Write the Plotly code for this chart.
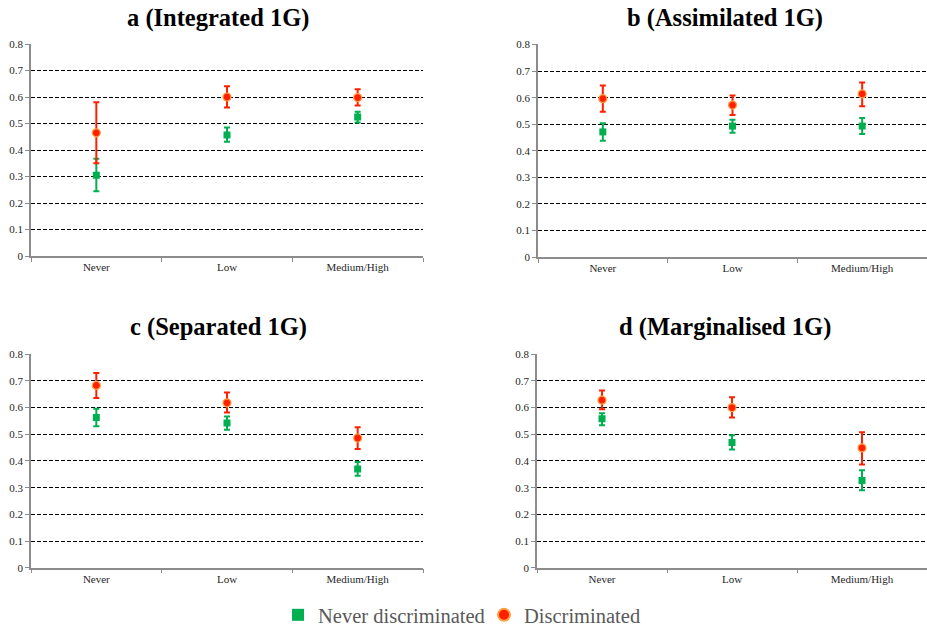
import plotly.graph_objects as go

categories = ["Never", "Low", "Medium/High"]
panel_titles = ["a (Integrated 1G)", "b (Assimilated 1G)", "c (Separated 1G)", "d (Marginalised 1G)"]
series_names = ["Never discriminated", "Discriminated"]

# Never discriminated (green): mean, upper, lower
a_never = [0.305, 0.457, 0.525]
a_never_hi = [0.367, 0.485, 0.544]
a_never_lo = [0.244, 0.431, 0.504]
a_disc = [0.465, 0.600, 0.598]
a_disc_hi = [0.580, 0.641, 0.629]
a_disc_lo = [0.350, 0.560, 0.568]

b_never = [0.471, 0.493, 0.493]
b_never_hi = [0.504, 0.517, 0.523]
b_never_lo = [0.438, 0.468, 0.463]
b_disc = [0.596, 0.572, 0.614]
b_disc_hi = [0.646, 0.608, 0.657]
b_disc_lo = [0.547, 0.535, 0.568]

c_never = [0.563, 0.542, 0.370]
c_never_hi = [0.596, 0.567, 0.396]
c_never_lo = [0.530, 0.517, 0.345]
c_disc = [0.683, 0.618, 0.486]
c_disc_hi = [0.730, 0.657, 0.526]
c_disc_lo = [0.636, 0.582, 0.445]

d_never = [0.558, 0.469, 0.327]
d_never_hi = [0.579, 0.496, 0.365]
d_never_lo = [0.534, 0.443, 0.290]
d_disc = [0.628, 0.600, 0.449]
d_disc_hi = [0.664, 0.639, 0.508]
d_disc_lo = [0.594, 0.563, 0.387]

y_ticks = [0, 0.1, 0.2, 0.3, 0.4, 0.5, 0.6, 0.7, 0.8]

panels = [
    (a_never, a_never_hi, a_never_lo, a_disc, a_disc_hi, a_disc_lo),
    (b_never, b_never_hi, b_never_lo, b_disc, b_disc_hi, b_disc_lo),
    (c_never, c_never_hi, c_never_lo, c_disc, c_disc_hi, c_disc_lo),
    (d_never, d_never_hi, d_never_lo, d_disc, d_disc_hi, d_disc_lo),
]

# body margin is removed by the post script, so the figure fills the window
W, H = 927, 627


def px(x):
    return x / W


def py(y):
    return 1 - y / H


xdoms = [[px(31), px(423)], [px(538), 1.0], [px(31), px(423)], [px(537), 1.0]]
ydoms = [[py(256), py(43.5)], [py(257), py(44)],
         [py(567.7), py(353.7)], [py(567.7), py(353.7)]]
title_pos = [(218, 18), (725, 18), (218, 327), (725, 327)]

GREEN = "#00B050"
RED = "#FF2000"
serif = "Liberation Serif, Times New Roman, serif"

fig = go.Figure()
layout = dict(
    template="none",
    width=W, height=H, margin=dict(l=0, r=0, t=0, b=0, pad=0, autoexpand=False),
    paper_bgcolor="white", plot_bgcolor="white",
    showlegend=True,
    legend=dict(orientation="h", x=px(278), xanchor="left", y=py(615), yanchor="middle",
                font=dict(family=serif, size=20.5, color="#595959"),
                bgcolor="rgba(0,0,0,0)", entrywidth=161, entrywidthmode="pixels",
                itemsizing="constant", traceorder="normal", itemwidth=30),
    annotations=[],
)

for i, (gn, gh, gl, rn, rh, rl) in enumerate(panels):
    k = "" if i == 0 else str(i + 1)
    xa, ya = "x" + k, "y" + k
    fig.add_trace(go.Scatter(
        x=categories, y=gn, xaxis=xa, yaxis=ya, mode="markers",
        name=series_names[0], showlegend=(i == 0), legendgroup="g",
        marker=dict(symbol="square", size=7, color=GREEN),
        error_y=dict(type="data", symmetric=False,
                     array=[h - m for h, m in zip(gh, gn)],
                     arrayminus=[m - l for m, l in zip(gn, gl)],
                     color=GREEN, thickness=2, width=3),
    ))
    fig.add_trace(go.Scatter(
        x=categories, y=rn, xaxis=xa, yaxis=ya, mode="markers",
        name=series_names[1], showlegend=(i == 0), legendgroup="r",
        marker=dict(symbol="circle", size=8, color=RED, line=dict(color="#FFA040", width=1.2)),
        error_y=dict(type="data", symmetric=False,
                     array=[h - m for h, m in zip(rh, rn)],
                     arrayminus=[m - l for m, l in zip(rn, rl)],
                     color=RED, thickness=2, width=3),
    ))
    layout["xaxis" + k] = dict(
        domain=xdoms[i], anchor=ya, type="category", categoryorder="array",
        categoryarray=categories, range=[-0.5, 2.5], automargin=False,
        showline=True, linecolor="#8c8c8c", linewidth=1.5,
        ticks="outside", tickson="boundaries", ticklen=4, tickcolor="#8c8c8c",
        showgrid=False, zeroline=False,
        tickfont=dict(family=serif, size=11, color="#262626"),
    )
    layout["yaxis" + k] = dict(
        domain=ydoms[i], anchor=xa, range=[0, 0.802], automargin=False,
        tickvals=y_ticks, ticktext=[f"{v:g}" for v in y_ticks],
        showline=True, linecolor="#8c8c8c", linewidth=1.5,
        ticks="outside", ticklen=4, tickcolor="#8c8c8c",
        showgrid=True, gridcolor="#000000", griddash="4px,2px", gridwidth=1.2,
        zeroline=False,
        tickfont=dict(family=serif, size=11, color="#262626"),
    )
    tx, ty = title_pos[i]
    layout["annotations"].append(dict(
        text="<b>" + panel_titles[i] + "</b>", x=px(tx), y=py(ty),
        xref="paper", yref="paper", showarrow=False, xanchor="center", yanchor="middle",
        font=dict(family=serif, size=24.5, color="#000000"),
    ))

fig.update_layout(**layout)
fig.write_html("out.html", config={"displayModeBar": False},
               post_script="document.body.style.margin='0px';")
